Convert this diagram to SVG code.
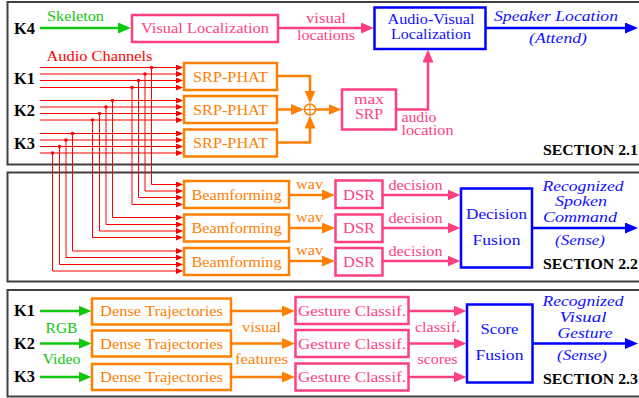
<svg xmlns="http://www.w3.org/2000/svg" width="639" height="398" viewBox="0 0 639 398">
<style>
text{font-family:"Liberation Serif","Times New Roman",serif;}
.sec{fill:#fff;stroke:#404040;stroke-width:2}
.t{font-size:15px}
.s{font-size:14px}
.k{font-size:16px;font-weight:bold;fill:#000}
.sn{font-size:14px;font-weight:bold;fill:#000}
.it{font-size:14.5px;font-style:italic;fill:#1010ff}
.m{text-anchor:middle}
.o{fill:#ff8000}.p{fill:#ff3f80}.g{fill:#11c811}.r{fill:#ff0000}.b{fill:#1010ff}
.bo{fill:#fff;stroke:#ff8000;stroke-width:2.5}
.bp{fill:#fff;stroke:#ff3f80;stroke-width:2.5}
.bb{fill:#fff;stroke:#0000ff;stroke-width:2.5}
.lo{fill:none;stroke:#ff8000;stroke-width:2.5}
.lp{fill:none;stroke:#ff3f80;stroke-width:2.5}
.lg{fill:none;stroke:#11c811;stroke-width:2.5}
.lb{fill:none;stroke:#0000ff;stroke-width:2.5}
.lr{fill:none;stroke:#ff0000;stroke-width:1}
</style>
<defs>
<marker id="ao" markerUnits="userSpaceOnUse" markerWidth="13" markerHeight="11" refX="5" refY="5.5" orient="auto"><path d="M0,0L13,5.5L0,11z" fill="#ff8000"/></marker>
<marker id="ap" markerUnits="userSpaceOnUse" markerWidth="13" markerHeight="11" refX="5" refY="5.5" orient="auto"><path d="M0,0L13,5.5L0,11z" fill="#ff3f80"/></marker>
<marker id="ag" markerUnits="userSpaceOnUse" markerWidth="13" markerHeight="11" refX="5" refY="5.5" orient="auto"><path d="M0,0L13,5.5L0,11z" fill="#11c811"/></marker>
<marker id="ab" markerUnits="userSpaceOnUse" markerWidth="13" markerHeight="11" refX="5" refY="5.5" orient="auto"><path d="M0,0L13,5.5L0,11z" fill="#0000ff"/></marker>
<marker id="ar" markerUnits="userSpaceOnUse" markerWidth="7" markerHeight="6" refX="3" refY="3" orient="auto"><path d="M0,0L7,3L0,6z" fill="#ff0000"/></marker>
</defs>

<g id="sections">
<rect class="sec" x="7.5" y="2" width="700" height="162.5"/>
<rect class="sec" x="7.5" y="172.5" width="700" height="109"/>
<rect class="sec" x="7.5" y="290" width="700" height="106.5"/>
<text class="sn" x="543" y="154.5" textLength="95" lengthAdjust="spacingAndGlyphs">SECTION 2.1</text>
<text class="sn" x="543" y="268.5" textLength="95" lengthAdjust="spacingAndGlyphs">SECTION 2.2</text>
<text class="sn" x="543" y="383.5" textLength="95" lengthAdjust="spacingAndGlyphs">SECTION 2.3</text>
</g>

<g id="labels">
<text class="k" x="14" y="33.5" textLength="21" lengthAdjust="spacingAndGlyphs">K4</text>
<text class="k" x="14" y="83.5" textLength="21" lengthAdjust="spacingAndGlyphs">K1</text>
<text class="k" x="14" y="116" textLength="21" lengthAdjust="spacingAndGlyphs">K2</text>
<text class="k" x="14" y="149" textLength="21" lengthAdjust="spacingAndGlyphs">K3</text>
<text class="k" x="14" y="315.5" textLength="21" lengthAdjust="spacingAndGlyphs">K1</text>
<text class="k" x="14" y="348.5" textLength="21" lengthAdjust="spacingAndGlyphs">K2</text>
<text class="k" x="14" y="382" textLength="21" lengthAdjust="spacingAndGlyphs">K3</text>
<text class="s g" x="47" y="20.5" textLength="57" lengthAdjust="spacingAndGlyphs">Skeleton</text>
<text class="s r" x="46.5" y="60.5" textLength="106" lengthAdjust="spacingAndGlyphs">Audio Channels</text>
<text class="s p m" x="326" y="23" textLength="40" lengthAdjust="spacingAndGlyphs">visual</text>
<text class="s p m" x="326" y="40" textLength="58" lengthAdjust="spacingAndGlyphs">locations</text>
<text class="it" x="494" y="21" textLength="124" lengthAdjust="spacingAndGlyphs">Speaker Location</text>
<text class="it" x="529" y="43" textLength="58" lengthAdjust="spacingAndGlyphs">(Attend)</text>
<text class="s p" x="401.5" y="121.5" textLength="35" lengthAdjust="spacingAndGlyphs">audio</text>
<text class="s p" x="401.5" y="135" textLength="52" lengthAdjust="spacingAndGlyphs">location</text>
<text class="s o m" x="309.5" y="188.5" textLength="27" lengthAdjust="spacingAndGlyphs">wav</text>
<text class="s o m" x="309.5" y="222" textLength="27" lengthAdjust="spacingAndGlyphs">wav</text>
<text class="s o m" x="309.5" y="255" textLength="27" lengthAdjust="spacingAndGlyphs">wav</text>
<text class="s p m" x="415.5" y="190" textLength="54" lengthAdjust="spacingAndGlyphs">decision</text>
<text class="s p m" x="415.5" y="222.5" textLength="54" lengthAdjust="spacingAndGlyphs">decision</text>
<text class="s p m" x="415.5" y="255.5" textLength="54" lengthAdjust="spacingAndGlyphs">decision</text>
<text class="it m" x="583" y="191" textLength="81" lengthAdjust="spacingAndGlyphs">Recognized</text>
<text class="it m" x="581" y="206" textLength="52" lengthAdjust="spacingAndGlyphs">Spoken</text>
<text class="it m" x="580" y="221.5" textLength="74" lengthAdjust="spacingAndGlyphs">Command</text>
<text class="it m" x="580" y="245" textLength="50" lengthAdjust="spacingAndGlyphs">(Sense)</text>
<text class="s g m" x="61.5" y="332.5" textLength="32" lengthAdjust="spacingAndGlyphs">RGB</text>
<text class="s g m" x="61.5" y="363.5" textLength="38" lengthAdjust="spacingAndGlyphs">Video</text>
<text class="s o m" x="261.5" y="331.5" textLength="39" lengthAdjust="spacingAndGlyphs">visual</text>
<text class="s o m" x="261.5" y="363.5" textLength="53" lengthAdjust="spacingAndGlyphs">features</text>
<text class="s p m" x="437.5" y="331.5" textLength="45" lengthAdjust="spacingAndGlyphs">classif.</text>
<text class="s p m" x="437.5" y="363.5" textLength="40" lengthAdjust="spacingAndGlyphs">scores</text>
<text class="it m" x="583" y="306" textLength="81" lengthAdjust="spacingAndGlyphs">Recognized</text>
<text class="it m" x="583" y="322" textLength="47" lengthAdjust="spacingAndGlyphs">Visual</text>
<text class="it m" x="585" y="337.5" textLength="55" lengthAdjust="spacingAndGlyphs">Gesture</text>
<text class="it m" x="582" y="360" textLength="50" lengthAdjust="spacingAndGlyphs">(Sense)</text>
</g>

<g id="connectors">
<path class="lg" d="M40,28H123" marker-end="url(#ag)"/>
<path class="lp" d="M278,28H366" marker-end="url(#ap)"/>
<path class="lb" d="M486,28H630" marker-end="url(#ab)"/>
<path class="lo" d="M277,76H310V95.5" marker-end="url(#ao)"/>
<path class="lo" d="M277,109.5H296" marker-end="url(#ao)"/>
<path class="lo" d="M277,142.5H310V123.5" marker-end="url(#ao)"/>
<path class="lo" d="M315.5,109.5H333.5" marker-end="url(#ao)"/>
<path class="lp" d="M396,109.5H428V57.5" marker-end="url(#ap)"/>
<g id="audio-channels">
<path class="lr" d="M40,67.5H179" marker-end="url(#ar)"/>
<path class="lr" d="M40,74H179" marker-end="url(#ar)"/>
<path class="lr" d="M40,80.5H179" marker-end="url(#ar)"/>
<path class="lr" d="M40,87.5H179" marker-end="url(#ar)"/>
<path class="lr" d="M40,100.5H179" marker-end="url(#ar)"/>
<path class="lr" d="M40,107H179" marker-end="url(#ar)"/>
<path class="lr" d="M40,113.5H179" marker-end="url(#ar)"/>
<path class="lr" d="M40,120H179" marker-end="url(#ar)"/>
<path class="lr" d="M40,133.5H179" marker-end="url(#ar)"/>
<path class="lr" d="M40,140H179" marker-end="url(#ar)"/>
<path class="lr" d="M40,146.5H179" marker-end="url(#ar)"/>
<path class="lr" d="M40,153H179" marker-end="url(#ar)"/>
<path class="lr" d="M151.5,67.5V184.5H179" marker-end="url(#ar)"/>
<path class="lr" d="M145,74V191H179" marker-end="url(#ar)"/>
<path class="lr" d="M138.5,80.5V197.5H179" marker-end="url(#ar)"/>
<path class="lr" d="M132,87.5V204.5H179" marker-end="url(#ar)"/>
<path class="lr" d="M112.5,100.5V217.5H179" marker-end="url(#ar)"/>
<path class="lr" d="M106,107V224.5H179" marker-end="url(#ar)"/>
<path class="lr" d="M99.5,113.5V231H179" marker-end="url(#ar)"/>
<path class="lr" d="M92.5,120V237.5H179" marker-end="url(#ar)"/>
<path class="lr" d="M72.5,133.5V251H179" marker-end="url(#ar)"/>
<path class="lr" d="M66,140V257.5H179" marker-end="url(#ar)"/>
<path class="lr" d="M59.5,146.5V264.5H179" marker-end="url(#ar)"/>
<path class="lr" d="M52.5,153V271H179" marker-end="url(#ar)"/>
<g fill="#ff0000">
<circle cx="151.5" cy="67.5" r="1.8"/><circle cx="145" cy="74" r="1.8"/><circle cx="138.5" cy="80.5" r="1.8"/><circle cx="132" cy="87.5" r="1.8"/>
<circle cx="112.5" cy="100.5" r="1.8"/><circle cx="106" cy="107" r="1.8"/><circle cx="99.5" cy="113.5" r="1.8"/><circle cx="92.5" cy="120" r="1.8"/>
<circle cx="72.5" cy="133.5" r="1.8"/><circle cx="66" cy="140" r="1.8"/><circle cx="59.5" cy="146.5" r="1.8"/><circle cx="52.5" cy="153" r="1.8"/>
</g>
</g>
<path class="lo" d="M289,195H327" marker-end="url(#ao)"/>
<path class="lo" d="M289,228H327" marker-end="url(#ao)"/>
<path class="lo" d="M289,261H327" marker-end="url(#ao)"/>
<path class="lp" d="M382.5,195H452.5" marker-end="url(#ap)"/>
<path class="lp" d="M382.5,228H452.5" marker-end="url(#ap)"/>
<path class="lp" d="M382.5,261H452.5" marker-end="url(#ap)"/>
<path class="lb" d="M532,228H630" marker-end="url(#ab)"/>
<path class="lg" d="M40,311H83.5" marker-end="url(#ag)"/>
<path class="lg" d="M40,343.5H83.5" marker-end="url(#ag)"/>
<path class="lg" d="M40,377H83.5" marker-end="url(#ag)"/>
<path class="lo" d="M231,311H287" marker-end="url(#ao)"/>
<path class="lo" d="M231,343.5H287" marker-end="url(#ao)"/>
<path class="lo" d="M231,377H287" marker-end="url(#ao)"/>
<path class="lp" d="M408.5,311H458.5" marker-end="url(#ap)"/>
<path class="lp" d="M408.5,343.5H458.5" marker-end="url(#ap)"/>
<path class="lp" d="M408.5,377H458.5" marker-end="url(#ap)"/>
<path class="lb" d="M532.5,343.5H630" marker-end="url(#ab)"/>
</g>

<g id="visual-localization"><rect class="bp" x="132" y="15" width="146" height="27"/><text class="t p m" x="205" y="33" textLength="128" lengthAdjust="spacingAndGlyphs">Visual Localization</text></g>
<g id="av-localization"><rect class="bb" x="374.5" y="7.5" width="111" height="41.5"/><text class="t b m" x="431" y="23.5" textLength="87" lengthAdjust="spacingAndGlyphs">Audio-Visual</text><text class="t b m" x="431" y="39" textLength="80" lengthAdjust="spacingAndGlyphs">Localization</text></g>
<g id="srp1"><rect class="bo" x="184" y="63" width="93" height="27"/><text class="t o m" x="230.5" y="81.5" textLength="75" lengthAdjust="spacingAndGlyphs">SRP-PHAT</text></g>
<g id="srp2"><rect class="bo" x="184" y="96" width="93" height="27"/><text class="t o m" x="230.5" y="114.5" textLength="75" lengthAdjust="spacingAndGlyphs">SRP-PHAT</text></g>
<g id="srp3"><rect class="bo" x="184" y="129.5" width="93" height="27"/><text class="t o m" x="230.5" y="148" textLength="75" lengthAdjust="spacingAndGlyphs">SRP-PHAT</text></g>
<g id="sum"><circle cx="310" cy="109.5" r="5.5" fill="#fff" stroke="#ff8000" stroke-width="1.5"/><path d="M304.5,109.5H315.5M310,104V115" stroke="#ff8000" stroke-width="1.2"/></g>
<g id="max-srp"><rect class="bp" x="342" y="89.5" width="54" height="40"/><text class="t p m" x="369" y="103.5" textLength="30" lengthAdjust="spacingAndGlyphs">max</text><text class="t p m" x="369" y="119" textLength="28" lengthAdjust="spacingAndGlyphs">SRP</text></g>

<g id="bf1"><rect class="bo" x="184" y="181" width="105" height="27"/><text class="t o m" x="236.5" y="199.5" textLength="90" lengthAdjust="spacingAndGlyphs">Beamforming</text></g>
<g id="bf2"><rect class="bo" x="184" y="214.5" width="105" height="27"/><text class="t o m" x="236.5" y="233" textLength="90" lengthAdjust="spacingAndGlyphs">Beamforming</text></g>
<g id="bf3"><rect class="bo" x="184" y="248" width="105" height="27"/><text class="t o m" x="236.5" y="266.5" textLength="90" lengthAdjust="spacingAndGlyphs">Beamforming</text></g>
<g id="dsr1"><rect class="bp" x="335.5" y="180.5" width="47" height="27.5"/><text class="t p m" x="359" y="199.5" textLength="32" lengthAdjust="spacingAndGlyphs">DSR</text></g>
<g id="dsr2"><rect class="bp" x="335.5" y="214.5" width="47" height="27.5"/><text class="t p m" x="359" y="233" textLength="32" lengthAdjust="spacingAndGlyphs">DSR</text></g>
<g id="dsr3"><rect class="bp" x="335.5" y="248" width="47" height="27.5"/><text class="t p m" x="359" y="267" textLength="32" lengthAdjust="spacingAndGlyphs">DSR</text></g>
<g id="decision-fusion"><rect class="bb" x="461" y="188.5" width="71" height="79"/><text class="t b m" x="496.5" y="218.5" textLength="61" lengthAdjust="spacingAndGlyphs">Decision</text><text class="t b m" x="496.5" y="244.5" textLength="48" lengthAdjust="spacingAndGlyphs">Fusion</text></g>

<g id="dt1"><rect class="bo" x="92" y="298.5" width="139" height="26"/><text class="t o m" x="161.5" y="316" textLength="123" lengthAdjust="spacingAndGlyphs">Dense Trajectories</text></g>
<g id="dt2"><rect class="bo" x="92" y="330.5" width="139" height="26"/><text class="t o m" x="161.5" y="348.5" textLength="123" lengthAdjust="spacingAndGlyphs">Dense Trajectories</text></g>
<g id="dt3"><rect class="bo" x="92" y="364" width="139" height="26"/><text class="t o m" x="161.5" y="382" textLength="123" lengthAdjust="spacingAndGlyphs">Dense Trajectories</text></g>
<g id="gc1"><rect class="bp" x="295.5" y="297" width="113" height="27"/><text class="t p m" x="352" y="315.5" textLength="108" lengthAdjust="spacingAndGlyphs">Gesture Classif.</text></g>
<g id="gc2"><rect class="bp" x="295.5" y="330" width="113" height="27"/><text class="t p m" x="352" y="348.5" textLength="108" lengthAdjust="spacingAndGlyphs">Gesture Classif.</text></g>
<g id="gc3"><rect class="bp" x="295.5" y="363.5" width="113" height="27"/><text class="t p m" x="352" y="382" textLength="108" lengthAdjust="spacingAndGlyphs">Gesture Classif.</text></g>
<g id="score-fusion"><rect class="bb" x="467" y="304.5" width="65.5" height="78"/><text class="t b m" x="499.5" y="333.5" textLength="38" lengthAdjust="spacingAndGlyphs">Score</text><text class="t b m" x="499.5" y="359.5" textLength="48" lengthAdjust="spacingAndGlyphs">Fusion</text></g>
</svg>
